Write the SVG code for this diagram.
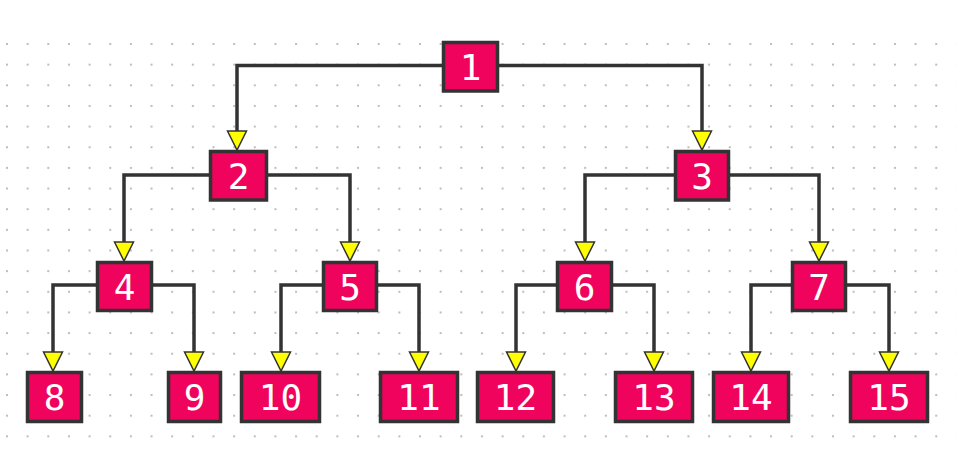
<svg xmlns="http://www.w3.org/2000/svg" width="956" height="462" viewBox="0 0 956 462">
<defs>
<pattern id="dots" patternUnits="userSpaceOnUse" x="6" y="43" width="20.65" height="20.65">
<rect x="0" y="0" width="2" height="2" fill="#bdbdbd"/>
</pattern>
<style>
.box{fill:#f0035d;stroke:#333;stroke-width:3.5}
.lbl{fill:#fff;font-family:"DejaVu Sans Mono","Liberation Mono",monospace;font-size:36px;text-anchor:middle}
.wire{fill:none;stroke:#333;stroke-width:3.5}
.arr{fill:#ffff00;stroke:#333;stroke-width:1.5;stroke-linejoin:miter}
</style>
</defs>
<rect width="956" height="462" fill="#fff"/>
<rect x="0" y="33" width="956" height="412" fill="url(#dots)"/>
<g id="connectors">
<path class="wire" d="M237,131 V65.5 H702 V131"/>
<path class="wire" d="M124,242 V175 H350 V242"/>
<path class="wire" d="M585,242 V175 H819 V242"/>
<path class="wire" d="M53,352 V285 H194 V352"/>
<path class="wire" d="M281,352 V285 H419 V352"/>
<path class="wire" d="M516,352 V285 H654 V352"/>
<path class="wire" d="M751,352 V285 H889 V352"/>
<polygon class="arr" points="227.5,131 246.5,131 237,150"/>
<polygon class="arr" points="692.5,131 711.5,131 702,150"/>
<polygon class="arr" points="114.5,242 133.5,242 124,261"/>
<polygon class="arr" points="340.5,242 359.5,242 350,261"/>
<polygon class="arr" points="575.5,242 594.5,242 585,261"/>
<polygon class="arr" points="809.5,242 828.5,242 819,261"/>
<polygon class="arr" points="43.5,352 62.5,352 53,371"/>
<polygon class="arr" points="184.5,352 203.5,352 194,371"/>
<polygon class="arr" points="271.5,352 290.5,352 281,371"/>
<polygon class="arr" points="409.5,352 428.5,352 419,371"/>
<polygon class="arr" points="506.5,352 525.5,352 516,371"/>
<polygon class="arr" points="644.5,352 663.5,352 654,371"/>
<polygon class="arr" points="741.5,352 760.5,352 751,371"/>
<polygon class="arr" points="879.5,352 898.5,352 889,371"/>
</g>
<g id="n1"><rect class="box" x="443.5" y="42.5" width="54" height="48.5"/><text class="lbl" x="470.5" y="80">1</text></g>
<g id="n2"><rect class="box" x="210.5" y="151.5" width="56" height="48.5"/><text class="lbl" x="238.5" y="189">2</text></g>
<g id="n3"><rect class="box" x="675.5" y="151.5" width="53" height="48.5"/><text class="lbl" x="702" y="189">3</text></g>
<g id="n4"><rect class="box" x="97.5" y="262.5" width="54" height="48"/><text class="lbl" x="124.5" y="299.5">4</text></g>
<g id="n5"><rect class="box" x="323.5" y="262.5" width="53" height="48"/><text class="lbl" x="350" y="299.5">5</text></g>
<g id="n6"><rect class="box" x="557.5" y="262.5" width="54" height="48"/><text class="lbl" x="584.5" y="299.5">6</text></g>
<g id="n7"><rect class="box" x="792.5" y="262.5" width="53" height="48"/><text class="lbl" x="819" y="299.5">7</text></g>
<g id="n8"><rect class="box" x="27.5" y="372.5" width="54" height="49"/><text class="lbl" x="54.5" y="410">8</text></g>
<g id="n9"><rect class="box" x="168.5" y="372.5" width="52" height="49"/><text class="lbl" x="194.5" y="410">9</text></g>
<g id="n10"><rect class="box" x="241.5" y="372.5" width="78" height="49"/><text class="lbl" x="280.5" y="410">10</text></g>
<g id="n11"><rect class="box" x="380.5" y="372.5" width="77" height="49"/><text class="lbl" x="419" y="410">11</text></g>
<g id="n12"><rect class="box" x="477.5" y="372.5" width="76" height="49"/><text class="lbl" x="515.5" y="410">12</text></g>
<g id="n13"><rect class="box" x="615.5" y="372.5" width="77" height="49"/><text class="lbl" x="654" y="410">13</text></g>
<g id="n14"><rect class="box" x="713.5" y="372.5" width="75" height="49"/><text class="lbl" x="751" y="410">14</text></g>
<g id="n15"><rect class="box" x="850.5" y="372.5" width="77" height="49"/><text class="lbl" x="889" y="410">15</text></g>
</svg>
